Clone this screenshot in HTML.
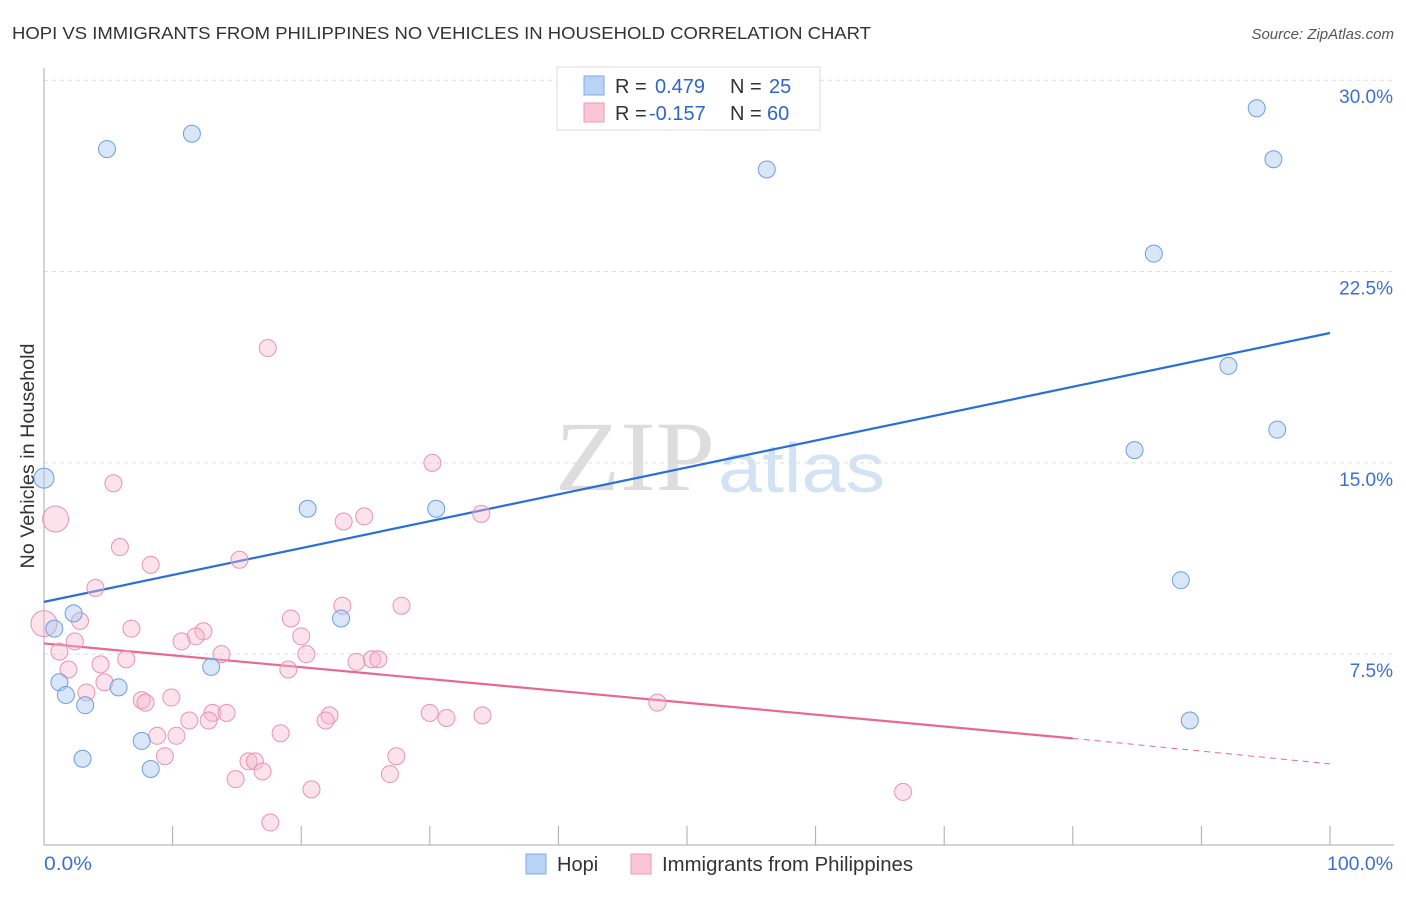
<!DOCTYPE html>
<html><head><meta charset="utf-8"><style>
body{margin:0;background:#fff;font-family:"Liberation Sans",sans-serif}
</style></head><body>
<svg width="1406" height="892" xmlns="http://www.w3.org/2000/svg" font-family="Liberation Sans, sans-serif">
<text x="12" y="39" font-size="17.5" fill="#333" textLength="859" lengthAdjust="spacingAndGlyphs">HOPI VS IMMIGRANTS FROM PHILIPPINES NO VEHICLES IN HOUSEHOLD CORRELATION CHART</text>
<text x="1394" y="39" font-size="15" fill="#555" font-style="italic" text-anchor="end">Source: ZipAtlas.com</text>
<g>
<text x="555" y="490" font-size="100" fill="#ddd" font-family="Liberation Serif, serif" textLength="160" lengthAdjust="spacingAndGlyphs">ZIP</text>
<text x="718" y="492" font-size="70" fill="#d3e2f5" textLength="167" lengthAdjust="spacingAndGlyphs">atlas</text>
</g>
<g id="grid"></g>
<g id="axes"></g>
<text x="34" y="456" font-size="19" fill="#333" text-anchor="middle" transform="rotate(-90 34 456)" textLength="225" lengthAdjust="spacingAndGlyphs">No Vehicles in Household</text>
<g id="trend"></g>
<g id="pts"></g>
<g>
<rect x="557" y="67" width="263" height="63" fill="#fff" stroke="#ddd"/>
<rect x="584" y="76" width="20" height="19" fill="#b8d3f5" stroke="#7ea9e3"/>
<rect x="584" y="103" width="20" height="19" fill="#fac6d5" stroke="#ec9ab4"/>
<text y="93" font-size="20" fill="#333"><tspan x="615">R =</tspan><tspan x="655" fill="#2f66cc">0.479</tspan><tspan x="730">N =</tspan><tspan x="769" fill="#2f66cc">25</tspan></text>
<text y="120" font-size="20" fill="#333"><tspan x="615">R =</tspan><tspan x="649" fill="#2f66cc">-0.157</tspan><tspan x="730">N =</tspan><tspan x="767" fill="#2f66cc">60</tspan></text>
</g>
<g>
<rect x="526" y="854" width="20" height="20" fill="#b8d3f5" stroke="#7ea9e3"/>
<text x="557" y="871" font-size="20" fill="#333">Hopi</text>
<rect x="631" y="854" width="20" height="20" fill="#fac6d5" stroke="#ec9ab4"/>
<text x="662" y="871" font-size="20" fill="#333" textLength="251" lengthAdjust="spacingAndGlyphs">Immigrants from Philippines</text>
</g>
</svg>
<script>
const yTicks=[7.5,15,22.5,30];
const yTickLabels=["7.5%","15.0%","22.5%","30.0%"];
const hopiX=[4.9,11.5,56.2,94.3,95.6,86.3,92.1,95.9,84.8,88.4,89.1,0,20.5,30.5,23.1,2.3,0.8,1.2,1.7,3.2,5.8,13.0,7.6,3.0,8.3];
const hopiY=[27.3,27.9,26.5,28.9,26.9,23.2,18.8,16.3,15.5,10.4,4.9,14.4,13.2,13.2,8.9,9.1,8.5,6.4,5.9,5.5,6.2,7.0,4.1,3.4,3.0];
const phX=[17.4,30.2,5.4,0.9,24.9,23.3,34.0,5.9,15.2,8.3,4.0,23.2,27.8,19.2,2.8,0,6.8,12.4,11.8,10.7,20.0,2.4,1.2,13.8,20.4,4.4,6.4,1.9,19.0,24.3,25.5,26.0,4.7,3.3,7.6,9.9,7.9,47.7,13.1,11.3,14.2,22.2,21.9,12.8,30.0,31.3,34.1,10.3,8.8,18.4,9.4,15.9,16.4,17.0,14.9,27.4,26.9,20.8,66.8,17.6];
const phY=[19.5,15.0,14.2,12.8,12.9,12.7,13.0,11.7,11.2,11.0,10.1,9.4,9.4,8.9,8.8,8.7,8.5,8.4,8.2,8.0,8.2,8.0,7.6,7.5,7.5,7.1,7.3,6.9,6.9,7.2,7.3,7.3,6.4,6.0,5.7,5.8,5.6,5.6,5.2,4.9,5.2,5.1,4.9,4.9,5.2,5.0,5.1,4.3,4.3,4.4,3.5,3.3,3.3,2.9,2.6,3.5,2.8,2.2,2.1,0.9];
const hopiTrend=[9.55,20.09];
const phTrend=[7.92,4.2,3.2];
const X=v=>44+v*12.86, Y=v=>845.5-v*25.51;
const NS="http://www.w3.org/2000/svg";
function mk(p,t,a){const e=document.createElementNS(NS,t);for(const k in a)e.setAttribute(k,a[k]);p.appendChild(e);return e;}
const grid=document.getElementById('grid'),axes=document.getElementById('axes');
yTicks.forEach((t,i)=>{
 const l=mk(grid,'line',{x1:44,x2:1394,y1:Y(t),y2:Y(t),stroke:'#ddd','stroke-dasharray':'4,4'});
 
 
 const tx=mk(grid,'text',{x:1393,y:Y(t)+23,'font-size':19,fill:'#3b6fd4','text-anchor':'end'});
 tx.textContent=yTickLabels[i];
 
 
});
mk(axes,'line',{x1:44,x2:44,y1:68,y2:845,stroke:'#aaa'});
mk(axes,'line',{x1:44,x2:1394,y1:845,y2:845,stroke:'#aaa'});
for(let k=1;k<=10;k++){mk(axes,'line',{x1:X(k*10),x2:X(k*10),y1:826,y2:845,stroke:'#aaa'});}
let t0=mk(axes,'text',{x:44,y:870,'font-size':19,fill:'#3b6fd4',textLength:48,lengthAdjust:'spacingAndGlyphs'});t0.textContent='0.0%';

let t1=mk(axes,'text',{x:1327,y:870,'font-size':19,fill:'#3b6fd4',textLength:66,lengthAdjust:'spacingAndGlyphs'});t1.textContent='100.0%';

const tr=document.getElementById('trend');
let bl=mk(tr,'line',{x1:X(0),y1:Y(hopiTrend[0]),x2:X(100),y2:Y(hopiTrend[1]),stroke:'#2a6fd6','stroke-width':2.2});

let pl=mk(tr,'line',{x1:X(0),y1:Y(phTrend[0]),x2:X(80),y2:Y(phTrend[1]),stroke:'#e8688f','stroke-width':2.2});

let pd=mk(tr,'line',{x1:X(80),y1:Y(phTrend[1]),x2:X(100),y2:Y(phTrend[2]),stroke:'#e8688f','stroke-width':1,'stroke-dasharray':'6,5'});

const pts=document.getElementById('pts');
phX.forEach((x,i)=>{const big=(x===0||(x===0.9&&phY[i]===12.8));
 const c=mk(pts,'circle',{cx:X(x),cy:Y(phY[i]),r:big?13:8.5,fill:'rgba(248,182,202,0.4)',stroke:'#ea93b0','stroke-width':1});
 
 });
hopiX.forEach((x,i)=>{const big=(x===0);
 const c=mk(pts,'circle',{cx:X(x),cy:Y(hopiY[i]),r:big?10:8.5,fill:'rgba(168,200,240,0.45)',stroke:'#6b9fe0','stroke-width':1});
 
 });
</script>
</body></html>
